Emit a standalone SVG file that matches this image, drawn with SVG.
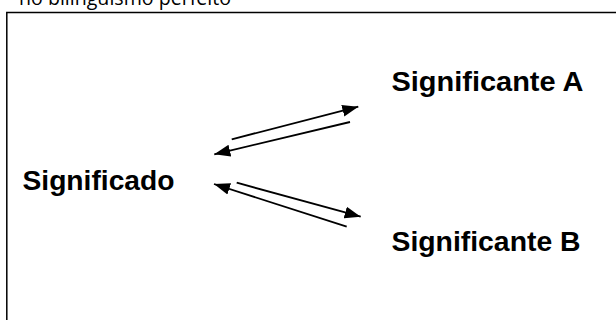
<svg xmlns="http://www.w3.org/2000/svg" width="616" height="320" viewBox="0 0 616 320">
<style>
.lbl{font-family:"Liberation Sans",Arial,sans-serif;font-weight:bold;font-size:28px;fill:#000}
.cap{font-family:"Open Sans","Liberation Sans",sans-serif;font-size:20px;fill:#000}
.ln{stroke:#000;stroke-width:1.8;fill:none;marker-end:url(#ah)}
</style>
<defs>
<marker id="ah" markerUnits="userSpaceOnUse" markerWidth="18" markerHeight="14" refX="16" refY="6" orient="auto" viewBox="0 0 18 12">
<path d="M0,0 L16,6 L0,12 Z" fill="#000"/>
</marker>
</defs>
<rect width="616" height="320" fill="#fff"/>
<text class="cap" x="19" y="4.5" textLength="212" lengthAdjust="spacingAndGlyphs">no bilinguismo perfeito</text>
<path d="M6.8,330 L6.8,12.5 L620,12.5" stroke="#000" stroke-width="1.5" fill="none"/>
<g id="significado"><text class="lbl" x="22.5" y="190" textLength="152" lengthAdjust="spacingAndGlyphs">Significado</text></g>
<g id="significanteA"><text class="lbl" x="391.5" y="91" textLength="192" lengthAdjust="spacingAndGlyphs">Significante A</text></g>
<g id="significanteB"><text class="lbl" x="391.5" y="251" textLength="189" lengthAdjust="spacingAndGlyphs">Significante B</text></g>
<g id="connectors">
<line class="ln" x1="231.7" y1="139.3" x2="358.3" y2="106.7"/>
<line class="ln" x1="350" y1="122" x2="214.3" y2="154.3"/>
<line class="ln" x1="236.7" y1="182.7" x2="360.7" y2="216.7"/>
<line class="ln" x1="346.7" y1="226.7" x2="214" y2="184"/>
</g>
</svg>
